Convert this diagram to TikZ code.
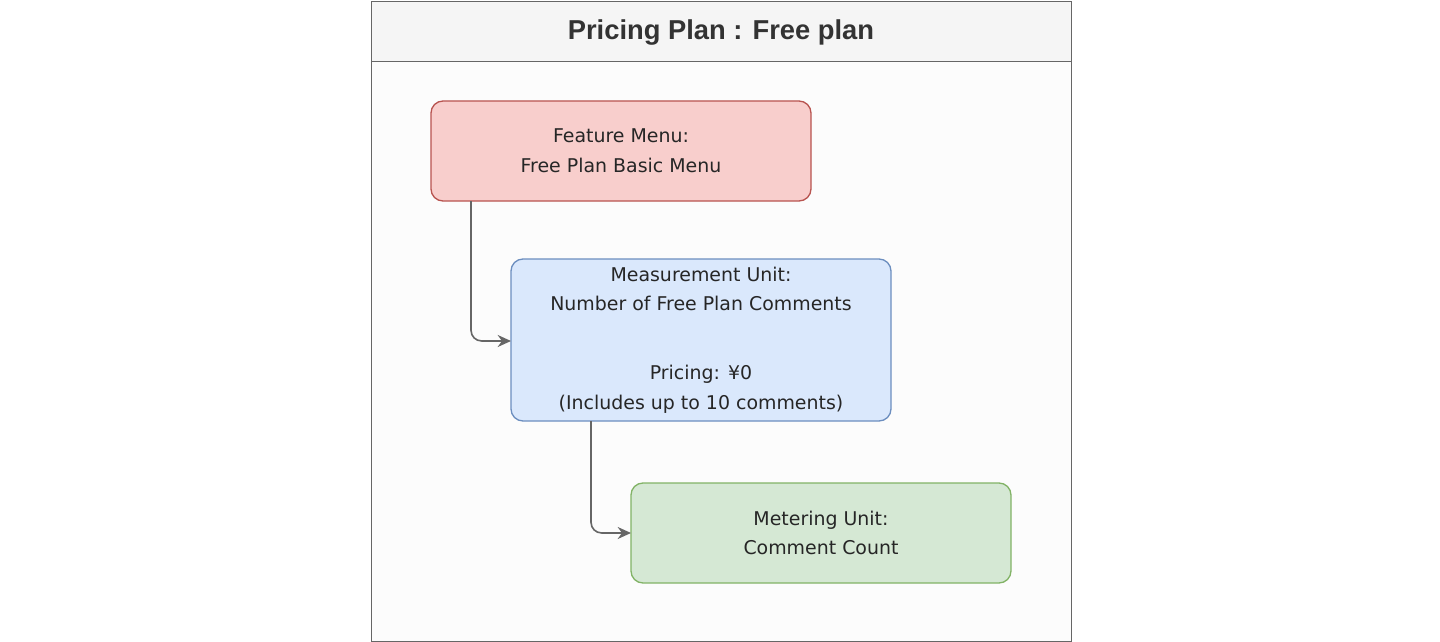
\documentclass[tikz,border=0pt]{standalone}
\usepackage{fontspec}
\setmainfont{Liberation Sans}
\newfontfamily\boxfont{DejaVu Sans}
\usepackage{xcolor}
\definecolor{redFill}{HTML}{F8CECC}
\definecolor{redLine}{HTML}{B85450}
\definecolor{blueFill}{HTML}{DAE8FC}
\definecolor{blueLine}{HTML}{6C8EBF}
\definecolor{greenFill}{HTML}{D5E8D4}
\definecolor{greenLine}{HTML}{82B366}
\definecolor{arrowGray}{HTML}{666666}
\usetikzlibrary{arrows.meta}

\begin{document}
\begin{tikzpicture}[x=0.75pt,y=-0.75pt]
\tikzstyle{planBox} = [
  rounded corners=9pt,
  line width=1,
  align=center,
  font=\boxfont\fontsize{14.2}{22.2}\selectfont,
  text=black!85
]
\tikzstyle{flowArrow} = [
  draw = arrowGray,
  line width = 1.2,
  rounded corners = 8pt,
  -{Stealth[length=10pt,width=9pt]}
]

\useasboundingbox (0,0) rectangle (1440,642);

% container
\draw[arrowGray, fill=black!1] (371,1) rectangle (1071,641);
\draw[arrowGray, fill=black!4] (371,1) rectangle (1071,61);
\node[font=\bfseries\fontsize{20.5}{24}\selectfont, text=black!80] (title) at (721,32) {Pricing Plan : Free plan};

% boxes
\draw[planBox, fill=redFill, draw=redLine] (431,101) rectangle (811,201);
\node[planBox] (menu) at (621,151) {Feature Menu:\\Free Plan Basic Menu};

\draw[planBox, fill=blueFill, draw=blueLine] (511,259) rectangle (891,421);
\node[planBox] (measure) at (701,340) {Measurement Unit:\\Number of Free Plan Comments\\[29.6pt]Pricing: ¥0\\(Includes up to 10 comments)};

\draw[planBox, fill=greenFill, draw=greenLine] (631,483) rectangle (1011,583);
\node[planBox] (meter) at (821,533) {Metering Unit:\\Comment Count};

\coordinate (menuOut) at (471,201);
\coordinate (measureIn) at (511,341);
\coordinate (measureOut) at (591,421);
\coordinate (meterIn) at (631,533);

\draw[flowArrow] (menuOut) |- (measureIn);
\draw[flowArrow] (measureOut) |- (meterIn);

\end{tikzpicture}
\end{document}
